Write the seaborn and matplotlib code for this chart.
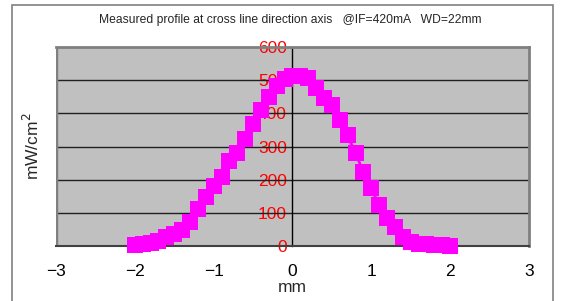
import numpy as np
import pandas as pd
import matplotlib
matplotlib.use("Agg")
import matplotlib.pyplot as plt
import seaborn as sns
from matplotlib.patches import Rectangle

# profile data (mm vs mW/cm2)
position_mm = [-2.0, -1.9, -1.8, -1.7, -1.6, -1.5, -1.4, -1.3, -1.2, -1.1,
               -1.0, -0.9, -0.8, -0.7, -0.6, -0.5, -0.4, -0.3, -0.2, -0.1,
               0.0, 0.1, 0.2, 0.3, 0.4, 0.5, 0.6, 0.7, 0.8, 0.9,
               1.0, 1.1, 1.2, 1.3, 1.4, 1.5, 1.6, 1.7, 1.8, 1.9, 2.0]
power_density = [2, 5, 10, 16, 26, 36, 47, 71, 111, 147,
                 180, 207, 257, 279, 324, 369, 410, 450, 483, 503,
                 513, 513, 508, 475, 447, 425, 380, 334, 279, 224,
                 174, 123, 83, 56, 28, 11, 6, 5, 4, 3, 1]
x_ticks = [-3, -2, -1, 0, 1, 2, 3]
y_ticks = [0, 100, 200, 300, 400, 500, 600]

df = pd.DataFrame({'mm': position_mm, 'power': power_density})

sns.set_style("white")
plt.rcParams['font.family'] = ['Liberation Sans', 'DejaVu Sans']

fig = plt.figure(figsize=(5.61, 3.01), dpi=100)
ax = fig.add_axes([0.0998, 0.1827, 0.843, 0.661])
ax.set_facecolor('#C0C0C0')

# outer chart frame
fig.patches.append(Rectangle((12 / 561, -0.05), (553 - 12) / 561, 1 - 5 / 301 + 0.05,
                             transform=fig.transFigure, fill=False,
                             edgecolor='#808080', linewidth=1.2))

for yv in y_ticks[1:-1]:
    ax.axhline(yv, color='#202020', linewidth=1.0, zorder=1)

sns.lineplot(data=df, x='mm', y='power', ax=ax, color='#FF00FF', linewidth=2,
             marker='s', markersize=11, markeredgecolor='#FF00FF',
             markeredgewidth=0, zorder=3, clip_on=False)

ax.set_xlim(-3, 3)
ax.set_ylim(0, 600)
ax.set_xticks(x_ticks)
ax.set_yticks(y_ticks)

for side in ['top', 'right']:
    ax.spines[side].set_color('#808080')
    ax.spines[side].set_linewidth(2)
ax.spines['bottom'].set_color('#404040')
ax.spines['bottom'].set_linewidth(1.5)
ax.spines['left'].set_position(('data', 0))
ax.spines['left'].set_color('black')
ax.spines['left'].set_linewidth(1)
# left border of the plot area
ax.axvline(-3, color='#808080', linewidth=2.5, zorder=2)

ax.tick_params(axis='x', direction='in', length=4, pad=13, labelsize=12.5, colors='black')
ax.tick_params(axis='y', direction='in', length=4, pad=4, labelsize=12.5,
               labelcolor='red', color='black')

ax.set_xlabel('mm', fontsize=12.5, labelpad=1)
ax.set_ylabel('mW/cm$^2$', fontsize=12.5)
ax.yaxis.set_label_coords(-0.03, 0.5)

fig.text(0.517, 1 - 20 / 301, 'Measured profile at cross line direction axis   @IF=420mA   WD=22mm',
         ha='center', va='center', fontsize=8.7)

plt.savefig('out.png', dpi=100)
plt.close()
